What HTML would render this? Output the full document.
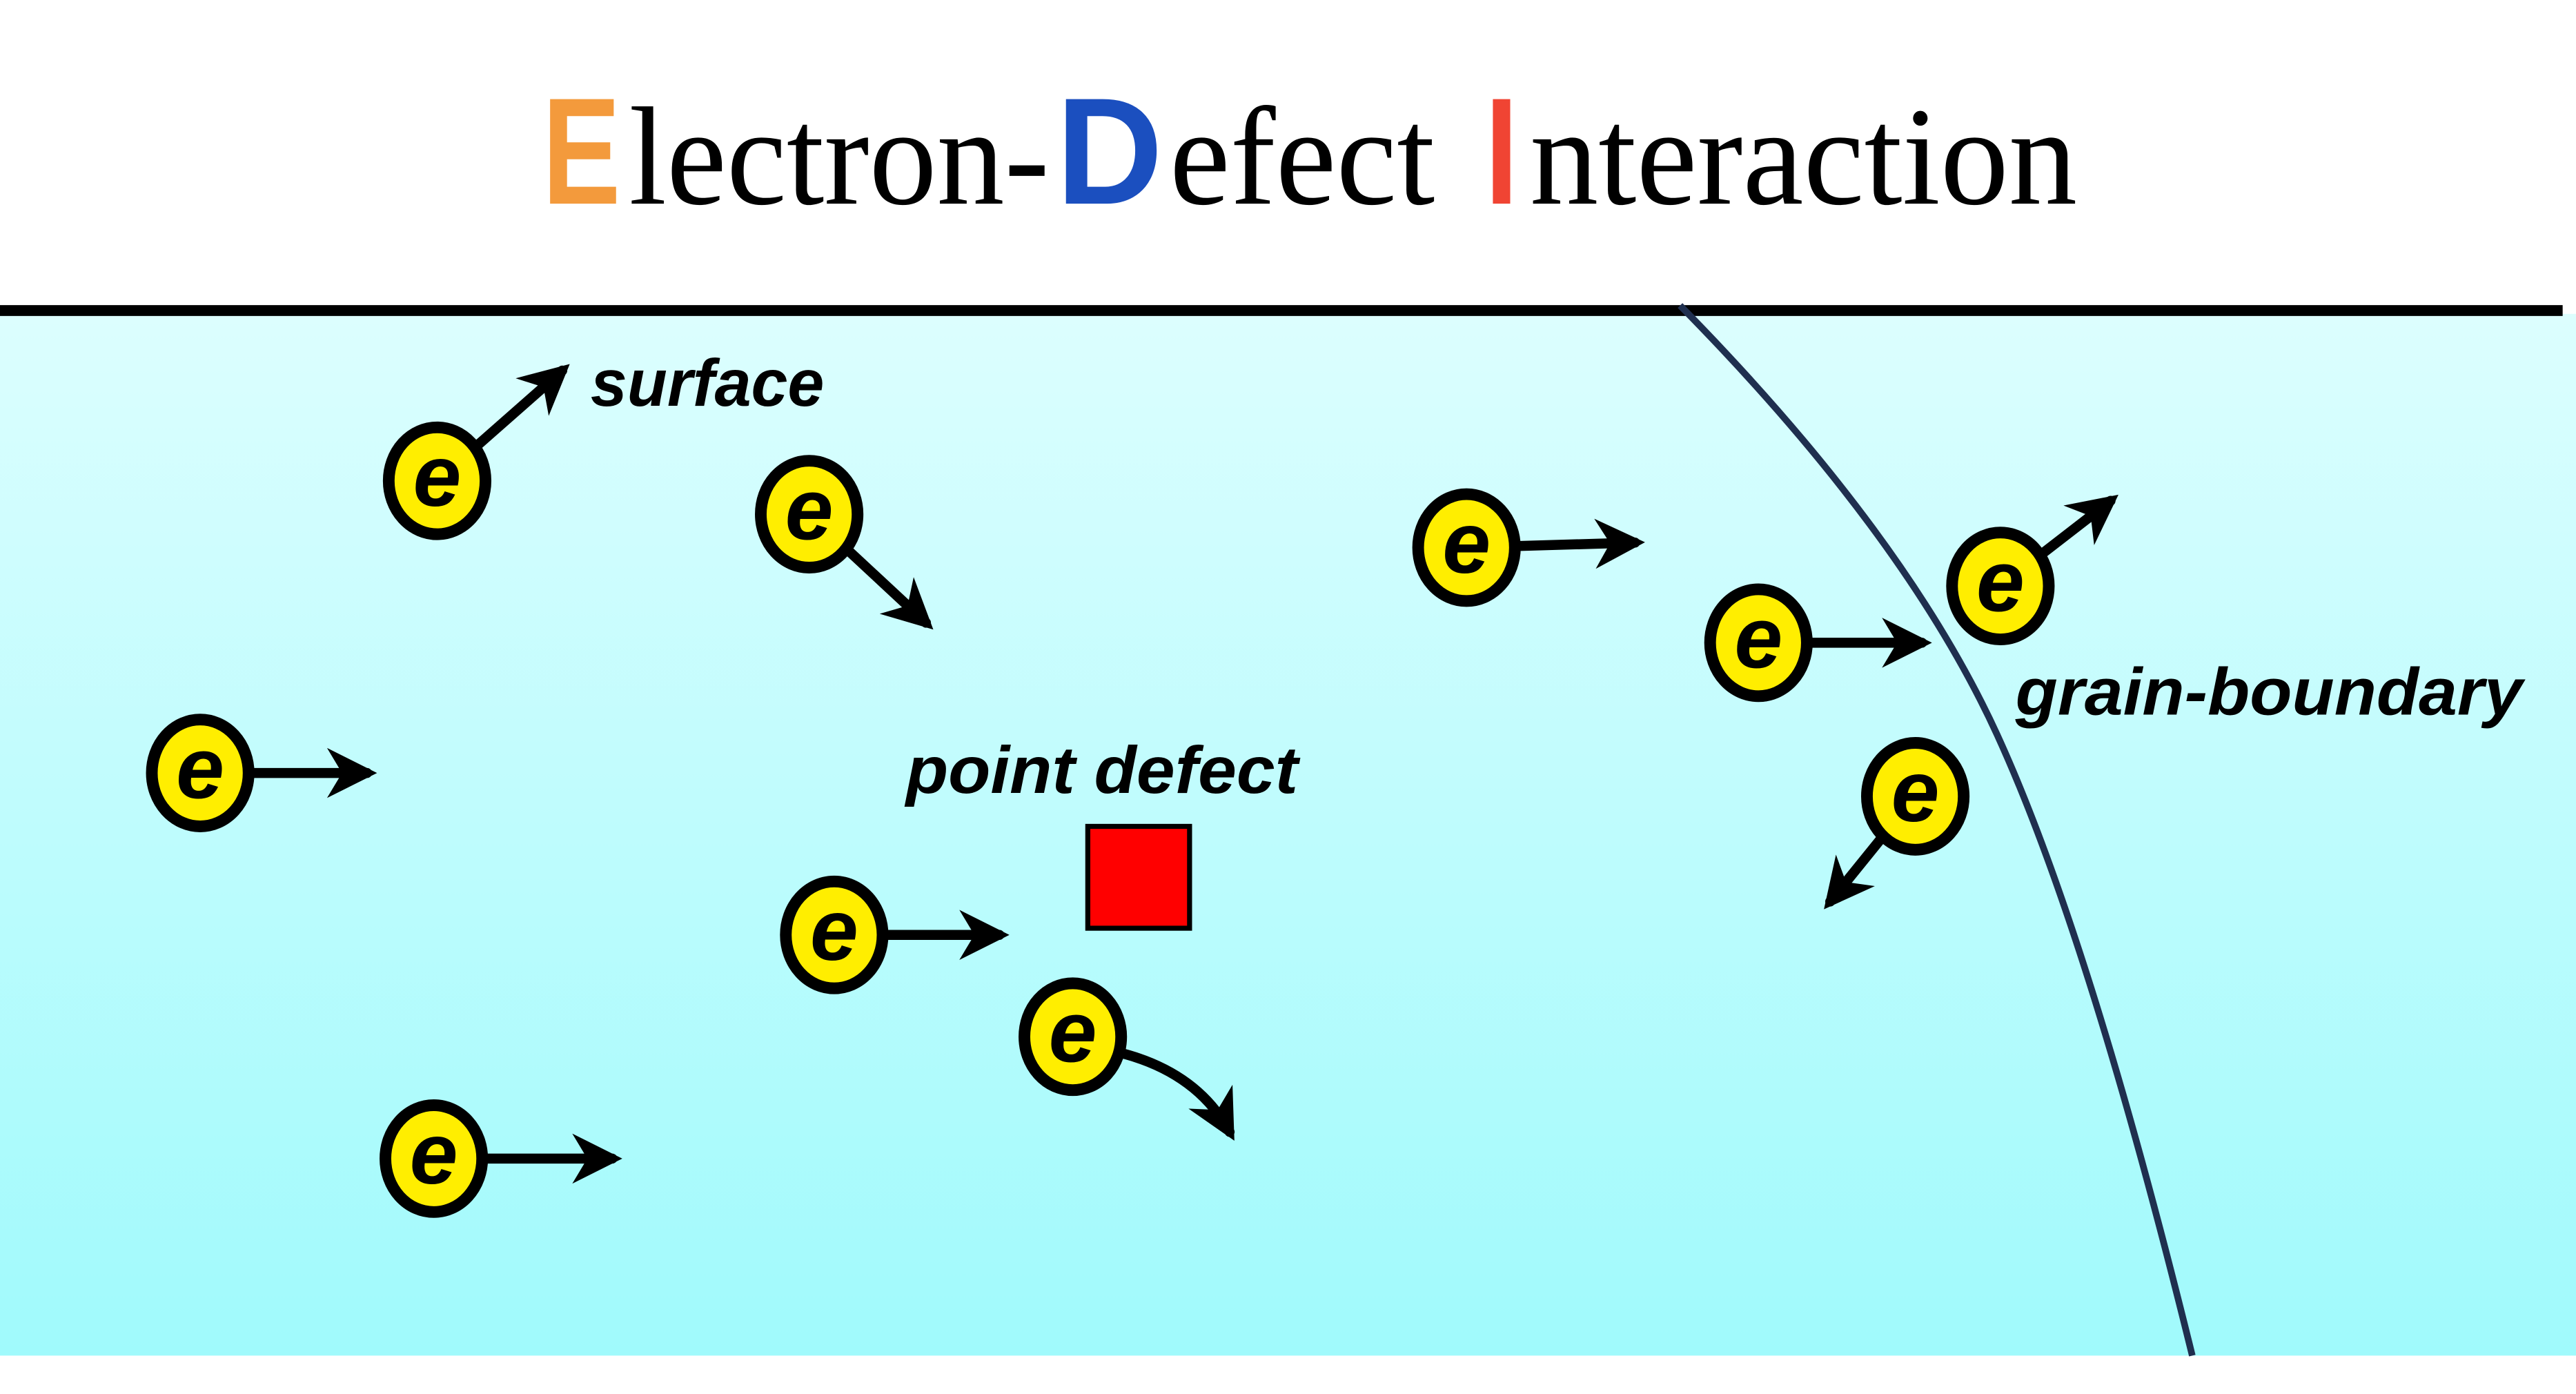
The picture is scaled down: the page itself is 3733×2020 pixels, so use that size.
<!DOCTYPE html>
<html><head><meta charset="utf-8"><style>
html,body{margin:0;padding:0;background:#fff;}
svg{display:block;}
</style></head><body>
<svg width="3733" height="2020" viewBox="8 0 1544 835" preserveAspectRatio="none" xmlns="http://www.w3.org/2000/svg">
<defs>
<linearGradient id="bg" x1="0" y1="0" x2="0" y2="1">
<stop offset="0" stop-color="#dcfefe"/><stop offset="1" stop-color="#a0fafc"/>
</linearGradient>
<marker id="ah" viewBox="0 0 10 10" refX="8" refY="5" markerWidth="5" markerHeight="5" orient="auto" markerUnits="strokeWidth">
<path d="M0,0 L10,5 L0,10 L3,5 Z" fill="#000"/>
</marker>
</defs>
<rect x="-20" y="0" width="1600" height="840" fill="#fff"/>
<rect x="-20" y="188" width="1600" height="624" fill="url(#bg)"/>
<line x1="-20" y1="186" x2="1544" y2="186" stroke="#000" stroke-width="6.5"/>

<g font-family="Liberation Serif, serif" font-size="84" fill="#000">
<text x="333" y="122" font-family="Liberation Sans, sans-serif" font-weight="bold" font-size="91" fill="#f39a3c" textLength="47" lengthAdjust="spacingAndGlyphs">E</text>
<text x="385" y="122" textLength="252" lengthAdjust="spacingAndGlyphs">lectron-</text>
<text x="641" y="122" font-family="Liberation Sans, sans-serif" font-weight="bold" font-size="91" fill="#1b4fbf" textLength="64" lengthAdjust="spacingAndGlyphs">D</text>
<text x="709" y="122" textLength="159" lengthAdjust="spacingAndGlyphs">efect</text>
<text x="898" y="122" font-family="Liberation Sans, sans-serif" font-weight="bold" font-size="91" fill="#f04433" textLength="20" lengthAdjust="spacingAndGlyphs">I</text>
<text x="925" y="122" textLength="328" lengthAdjust="spacingAndGlyphs">nteraction</text>
</g>

<path d="M1015 183 Q1150 320 1205 440 Q1260 560 1322 812" fill="none" stroke="#1f2f4f" stroke-width="4"/>

<rect x="660" y="495" width="61" height="61" fill="#ff0000" stroke="#000" stroke-width="3"/>

<g font-family="Liberation Sans, sans-serif" font-weight="bold" font-style="italic" fill="#000" font-size="40">
<text x="362" y="243" textLength="140" lengthAdjust="spacingAndGlyphs">surface</text>
<text x="551" y="475" textLength="235" lengthAdjust="spacingAndGlyphs">point defect</text>
<text x="1216" y="428" textLength="304" lengthAdjust="spacingAndGlyphs">grain-boundary</text>
</g>

<g id="arrows" stroke="#000" stroke-width="6" fill="none" stroke-linecap="round"></g>
<g id="electrons"></g>
</svg>
<script>
const NS='http://www.w3.org/2000/svg';
const ex=[270,493,128,508,651,268,887,1062,1207,1156];
const ey=[288,308,463,560,621,694,328,385,351,477];
const ax=[345,563,228,607,745,375,988,1160,1273,1105];
const ay=[222,373,463,560,678,694,325,385,300,540];
const R=29;
const ag=document.getElementById('arrows');
const eg=document.getElementById('electrons');
for(let i=0;i<ex.length;i++){
  const dx=ax[i]-ex[i], dy=ay[i]-ey[i], L=Math.hypot(dx,dy);
  const sx=ex[i]+dx/L*R, sy=ey[i]+dy/L*R;
  const p=document.createElementNS(NS,'path');
  let d;
  if(i===4){ d='M'+(ex[i]+30)+' '+(ey[i]+10)+' Q'+(ex[i]+75)+' '+(ey[i]+22)+' '+ax[i]+' '+ay[i]; }
  else { d='M'+sx+' '+sy+' L'+ax[i]+' '+ay[i]; }
  p.setAttribute('d',d);
  p.setAttribute('marker-end','url(#ah)');
  
  
  ag.appendChild(p);
  const g=document.createElementNS(NS,'g');
  
  
  const c=document.createElementNS(NS,'ellipse');
  c.setAttribute('cx',ex[i]);c.setAttribute('cy',ey[i]);
  c.setAttribute('rx',R);c.setAttribute('ry',R+3);
  c.setAttribute('fill','#ffee00');c.setAttribute('stroke','#000');c.setAttribute('stroke-width','7');
  
  
  g.appendChild(c);
  const t=document.createElementNS(NS,'text');
  t.setAttribute('x',ex[i]);t.setAttribute('y',ey[i]+15);
  t.setAttribute('text-anchor','middle');
  t.setAttribute('font-family','Liberation Sans, sans-serif');
  t.setAttribute('font-weight','bold');t.setAttribute('font-style','italic');
  t.setAttribute('font-size','52');t.setAttribute('fill','#000');
  
  
  t.textContent='e';
  g.appendChild(t);
  eg.appendChild(g);
}
</script>
</body></html>
